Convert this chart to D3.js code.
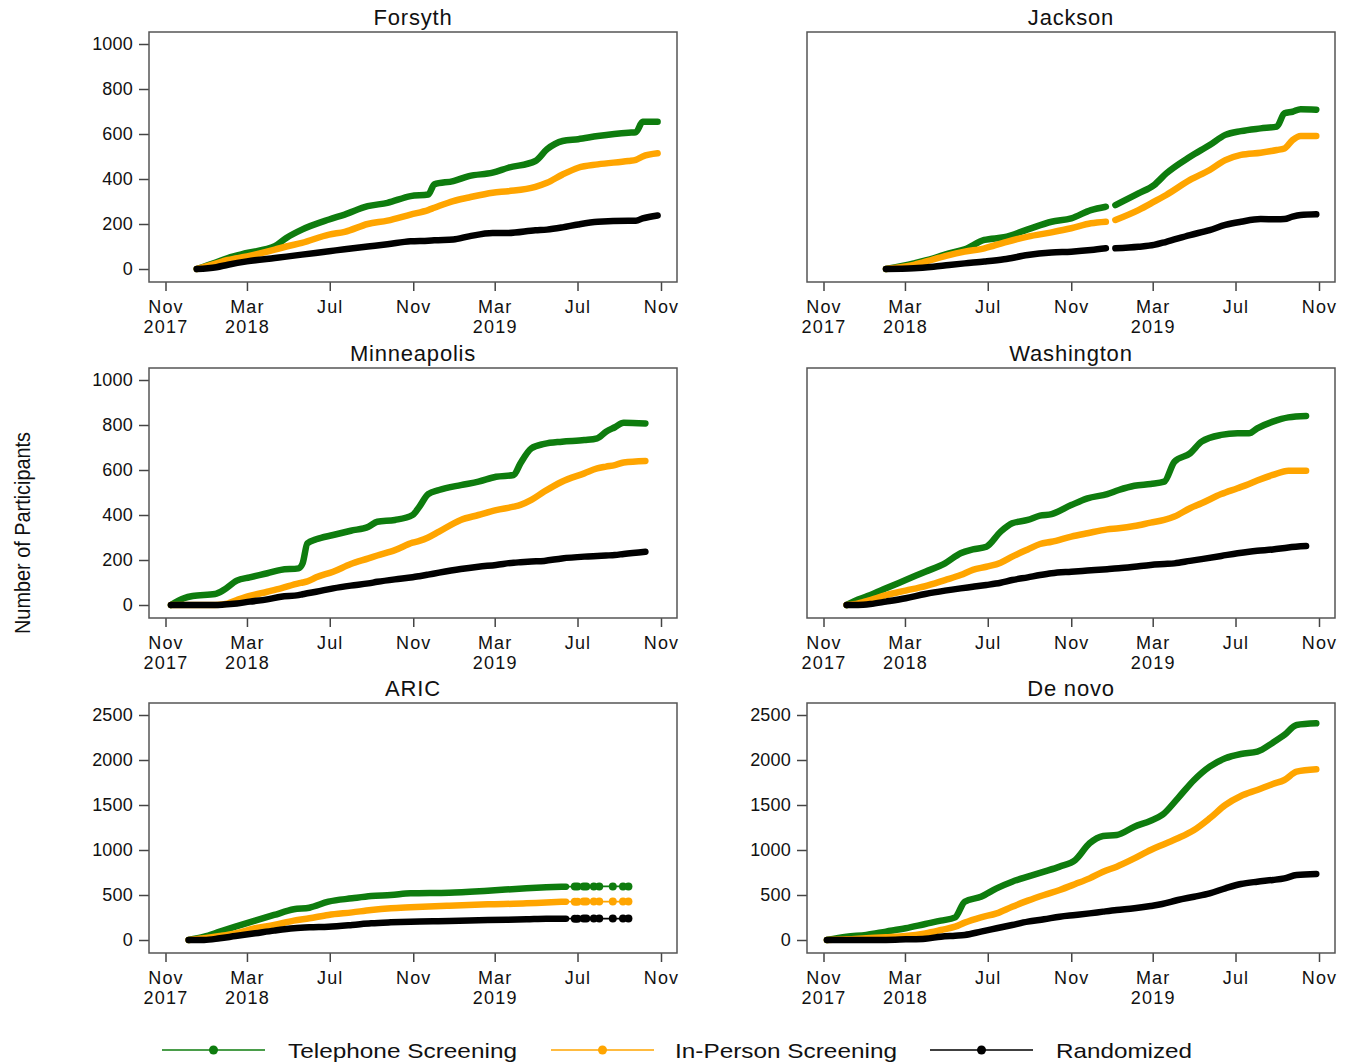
<!DOCTYPE html>
<html><head><meta charset="utf-8">
<script src="https://cdn.jsdelivr.net/npm/d3@7"></script>
<style>
html,body{margin:0;padding:0;background:#fff;}
svg{display:block;font-family:"Liberation Sans",Arial,Helvetica,sans-serif;}
</style></head><body>
<svg id="chart" width="1354" height="1062"></svg>
<script>
// ---------------- DATA ----------------
const seriesNames = ["Telephone Screening", "In-Person Screening", "Randomized"];
const yTicks1000 = [0, 200, 400, 600, 800, 1000];
const yTicks2500 = [0, 500, 1000, 1500, 2000, 2500];
const xTickDates = ["2017-11-01","2018-03-01","2018-07-01","2018-11-01","2019-03-01","2019-07-01","2019-11-01"];
const xTickMonths = ["Nov","Mar","Jul","Nov","Mar","Jul","Nov"];
const xTickYears = ["2017","2018","","","2019","",""];

const forsythDates = ["2017-12-17","2018-01-15","2018-02-01","2018-03-01","2018-04-11","2018-04-28","2018-05-21","2018-06-30","2018-07-23","2018-08-26","2018-09-24","2018-10-28","2018-11-23","2018-12-02","2018-12-30","2019-01-22","2019-02-26","2019-03-21","2019-04-30","2019-05-17","2019-06-09","2019-07-02","2019-07-31","2019-09-14","2019-09-25","2019-10-05","2019-10-27"];
const forsythTelephone = [0,30,49,71,101,138,175,220,242,279,294,324,331,376,391,413,428,450,480,532,569,577,591,606,608,654,654];
const forsythInPerson  = [0,25,40,56,86,100,116,153,165,200,215,242,262,272,302,318,339,346,365,383,420,450,465,480,485,500,514];
const forsythRandomized= [0,8,19,34,49,55,64,79,88,100,110,123,126,128,131,145,160,160,172,175,185,198,210,215,215,225,238];

const jacksonDates = ["2018-02-01","2018-03-14","2018-04-12","2018-05-05","2018-05-28","2018-06-26","2018-07-25","2018-08-29","2018-10-03","2018-11-01","2018-11-30","2018-12-22","2018-12-29","2019-01-05","2019-02-08","2019-03-03","2019-03-21","2019-04-25","2019-05-24","2019-06-16","2019-07-09","2019-08-07","2019-08-31","2019-09-11","2019-09-23","2019-10-05","2019-10-28"];
const jacksonTelephone = [0,25,47,70,87,129,141,176,210,225,262,277,null,284,336,373,425,499,551,596,613,625,633,692,699,710,708];
const jacksonInPerson  = [0,18,43,62,77,92,117,144,163,181,203,210,null,218,262,299,329,396,440,484,507,517,529,536,573,591,591];
const jacksonRandomized= [0,3,10,18,25,33,43,62,73,77,84,92,null,92,99,107,121,151,173,196,210,222,221,222,233,240,243];

const minneapolisDates = ["2017-11-09","2017-11-28","2017-12-11","2018-01-13","2018-01-26","2018-02-14","2018-03-05","2018-03-31","2018-04-20","2018-05-16","2018-05-22","2018-05-29","2018-06-11","2018-07-06","2018-08-01","2018-08-27","2018-09-09","2018-10-05","2018-10-31","2018-11-10","2018-11-23","2018-12-09","2019-01-10","2019-02-05","2019-03-03","2019-03-29","2019-04-08","2019-04-24","2019-05-13","2019-06-08","2019-07-11","2019-07-30","2019-08-12","2019-08-25","2019-09-07","2019-10-09"];
const minneapolisTelephone = [0,30,40,49,67,108,123,141,156,163,185,274,292,311,330,348,370,378,400,437,493,511,533,548,570,578,630,696,716,726,733,741,770,790,810,807];
const minneapolisInPerson  = [0,0,0,0,3,22,40,59,74,96,100,105,123,148,182,207,220,244,277,285,300,326,378,400,422,437,445,467,504,548,585,607,615,622,633,640];
const minneapolisRandomized= [0,0,0,0,2,7,15,25,37,44,48,52,59,74,86,96,103,114,123,128,135,144,160,170,178,188,190,193,196,207,215,218,220,222,227,237];

const washingtonDates = ["2017-12-05","2017-12-22","2018-01-09","2018-02-01","2018-03-02","2018-03-31","2018-04-29","2018-05-22","2018-06-09","2018-06-29","2018-07-20","2018-08-06","2018-08-29","2018-09-16","2018-10-03","2018-11-01","2018-11-25","2018-12-24","2019-01-10","2019-02-02","2019-02-26","2019-03-18","2019-04-02","2019-04-25","2019-05-12","2019-06-10","2019-07-04","2019-07-21","2019-08-02","2019-08-25","2019-09-17","2019-10-13"];
const washingtonTelephone = [0,25,44,74,111,148,185,230,247,259,326,363,378,397,404,444,474,493,511,530,538,548,637,674,726,756,763,763,785,815,834,840];
const washingtonInPerson  = [0,7,22,44,64,84,111,133,156,170,188,215,247,271,281,304,319,336,341,351,366,378,393,430,452,493,519,538,553,578,597,597];
const washingtonRandomized= [0,0,4,15,30,49,64,74,81,89,99,111,123,133,141,148,153,159,163,170,178,182,185,196,204,218,230,237,241,247,256,262];

const aricDates = ["2017-12-05","2017-12-28","2018-01-20","2018-02-12","2018-03-13","2018-04-10","2018-05-09","2018-06-01","2018-06-29","2018-08-03","2018-08-31","2018-09-29","2018-10-28","2018-12-24","2019-02-19","2019-04-17","2019-05-16","2019-06-14"];
const aricTelephone = [0,37,93,148,215,278,341,359,426,463,489,500,519,526,548,574,585,593];
const aricInPerson  = [0,19,44,74,130,167,215,241,278,307,333,352,363,381,396,407,418,426];
const aricRandomized= [0,0,19,44,74,104,130,141,148,167,185,196,204,211,222,230,237,237];
const aricTailDates = ["2019-06-27","2019-07-01","2019-07-10","2019-07-14","2019-07-25","2019-08-02","2019-08-22","2019-09-06","2019-09-14"];
const aricTailTelephone = [594,594,594,595,595,595,595,595,595];
const aricTailInPerson  = [426,426,427,427,427,427,427,427,427];
const aricTailRandomized= [237,237,238,238,238,238,238,238,238];

const denovoDates = ["2017-11-06","2017-12-05","2018-01-03","2018-02-01","2018-03-02","2018-03-31","2018-04-23","2018-05-14","2018-05-28","2018-06-21","2018-07-14","2018-08-06","2018-08-29","2018-09-22","2018-10-15","2018-11-07","2018-11-28","2018-12-18","2019-01-07","2019-02-02","2019-02-26","2019-03-15","2019-04-07","2019-05-01","2019-05-24","2019-06-16","2019-07-09","2019-08-02","2019-08-25","2019-09-11","2019-09-29","2019-10-28"];
const denovoTelephone = [0,37,56,93,130,178,215,252,426,481,574,648,704,759,815,889,1074,1156,1167,1259,1326,1389,1574,1778,1926,2019,2067,2093,2193,2278,2389,2407];
const denovoInPerson  = [0,7,19,30,44,74,111,148,193,252,296,370,437,500,556,622,685,759,815,907,1000,1056,1130,1222,1352,1500,1600,1667,1733,1778,1870,1896];
const denovoRandomized= [0,0,0,0,7,15,37,48,56,93,130,167,204,230,259,278,296,315,333,352,378,400,444,481,519,574,622,648,667,685,722,733];

// ---------------- LAYOUT ----------------
const parse = d3.timeParse("%Y-%m-%d");
const colors = ["#0e7c0e", "#ffa500", "#000000"];
const W = 528, H = 250;
const colLeft = [149, 807];
const rowTop = [32, 368, 703];
const FONT = '"Liberation Sans",Arial,sans-serif';

const panels = [
  {title:"Forsyth", col:0, row:0, dates:forsythDates, series:[forsythTelephone, forsythInPerson, forsythRandomized], yTicks:yTicks1000, yLabels:true},
  {title:"Jackson", col:1, row:0, dates:jacksonDates, series:[jacksonTelephone, jacksonInPerson, jacksonRandomized], yTicks:yTicks1000, yLabels:false},
  {title:"Minneapolis", col:0, row:1, dates:minneapolisDates, series:[minneapolisTelephone, minneapolisInPerson, minneapolisRandomized], yTicks:yTicks1000, yLabels:true},
  {title:"Washington", col:1, row:1, dates:washingtonDates, series:[washingtonTelephone, washingtonInPerson, washingtonRandomized], yTicks:yTicks1000, yLabels:false},
  {title:"ARIC", col:0, row:2, dates:aricDates, series:[aricTelephone, aricInPerson, aricRandomized], yTicks:yTicks2500, yLabels:true,
    tail:{dates:aricTailDates, series:[aricTailTelephone, aricTailInPerson, aricTailRandomized]}},
  {title:"De novo", col:1, row:2, dates:denovoDates, series:[denovoTelephone, denovoInPerson, denovoRandomized], yTicks:yTicks2500, yLabels:true}
];

const svg = d3.select("#chart");

const x = d3.scaleTime()
  .domain([parse("2017-11-01"), parse("2019-11-01")])
  .range([16.5, 512]);

panels.forEach(p => {
  const g = svg.append("g").attr("transform", `translate(${colLeft[p.col]},${rowTop[p.row]})`);
  const yMax = p.yTicks[p.yTicks.length - 1];
  const y = d3.scaleLinear().domain([0, yMax]).range([H - 13, 12]);

  // title
  g.append("text")
    .attr("x", W / 2).attr("y", -15).attr("dy", "0.36em")
    .attr("text-anchor", "middle")
    .style("font-size", "22px").style("letter-spacing", "0.8px")
    .attr("fill", "#111")
    .text(p.title);

  // x axis
  const xAxis = d3.axisBottom(x)
    .tickValues(xTickDates.map(parse))
    .tickSize(9)
    .tickFormat((d, i) => xTickMonths[i]);
  const gx = g.append("g").attr("transform", `translate(0,${H})`).call(xAxis);
  gx.select(".domain").remove();
  gx.selectAll(".tick line").attr("stroke", "#444").attr("stroke-width", 1.5);
  gx.selectAll(".tick text")
    .attr("y", 25).attr("dy", "0.36em")
    .attr("fill", "#111")
    .style("font-size", "18px").style("letter-spacing", "1.2px")
    .style("font-family", FONT);
  gx.selectAll(".tick").append("text")
    .attr("y", 45).attr("dy", "0.36em")
    .attr("fill", "#111")
    .attr("text-anchor", "middle")
    .style("font-size", "18px").style("letter-spacing", "1.2px")
    .style("font-family", FONT)
    .text((d, i) => xTickYears[i]);

  // y axis
  if (p.yLabels) {
    const yAxis = d3.axisLeft(y).tickValues(p.yTicks).tickSize(10).tickPadding(6).tickFormat(d3.format("d"));
    const gy = g.append("g").call(yAxis);
    gy.select(".domain").remove();
    gy.selectAll(".tick line").attr("stroke", "#444").attr("stroke-width", 1.5);
    gy.selectAll(".tick text")
      .attr("fill", "#111")
      .style("font-size", "18px").style("letter-spacing", "0.2px")
      .style("font-family", FONT);
  }

  // lines
  const line = d3.line()
    .defined(d => d.v != null)
    .x(d => x(d.date))
    .y(d => y(d.v))
    .curve(d3.curveMonotoneX);

  p.series.forEach((vals, si) => {
    const data = p.dates.map((ds, i) => ({date: parse(ds), v: vals[i]}));
    if (p.tail) {
      const last = data[data.length - 1];
      const tailData = [last].concat(p.tail.dates.map((ds, i) => ({date: parse(ds), v: p.tail.series[si][i]})));
      g.append("path").datum(tailData)
        .attr("d", d3.line().x(d => x(d.date)).y(d => y(d.v)))
        .attr("fill", "none").attr("stroke", colors[si]).attr("stroke-width", 1.8);
      g.selectAll(null).data(tailData.slice(1)).enter().append("circle")
        .attr("cx", d => x(d.date)).attr("cy", d => y(d.v)).attr("r", 4)
        .attr("fill", colors[si]);
    }
    g.append("path").datum(data)
      .attr("d", line)
      .attr("fill", "none")
      .attr("stroke", colors[si])
      .attr("stroke-width", 6.5)
      .attr("stroke-linecap", "round")
      .attr("stroke-linejoin", "round");
  });

  // frame
  g.append("rect").attr("x", 0).attr("y", 0).attr("width", W).attr("height", H)
    .attr("fill", "none").attr("stroke", "#555").attr("stroke-width", 1.5);
});

// y-axis title
svg.append("text")
  .attr("transform", "translate(22,533) rotate(-90)")
  .attr("text-anchor", "middle").attr("dy", "0.35em")
  .attr("textLength", 202).attr("lengthAdjust", "spacingAndGlyphs")
  .style("font-size", "22px").attr("fill", "#111")
  .text("Number of Participants");

// legend
const legendLineX = [162, 551, 930];
const legendTextX = [288, 675, 1056];
const legendTextLen = [229, 222, 136];
const lg = svg.append("g").attr("transform", "translate(0,1050)");
seriesNames.forEach((name, i) => {
  lg.append("line").attr("x1", legendLineX[i]).attr("x2", legendLineX[i] + 103)
    .attr("y1", 0).attr("y2", 0).attr("stroke", colors[i]).attr("stroke-width", 1.5);
  lg.append("circle").attr("cx", legendLineX[i] + 51.5).attr("cy", 0).attr("r", 4.5).attr("fill", colors[i]);
  lg.append("text").attr("x", legendTextX[i]).attr("y", 0).attr("dy", "0.36em")
    .attr("textLength", legendTextLen[i]).attr("lengthAdjust", "spacingAndGlyphs")
    .style("font-size", "21px").attr("fill", "#111")
    .text(name);
});
</script>
</body></html>
